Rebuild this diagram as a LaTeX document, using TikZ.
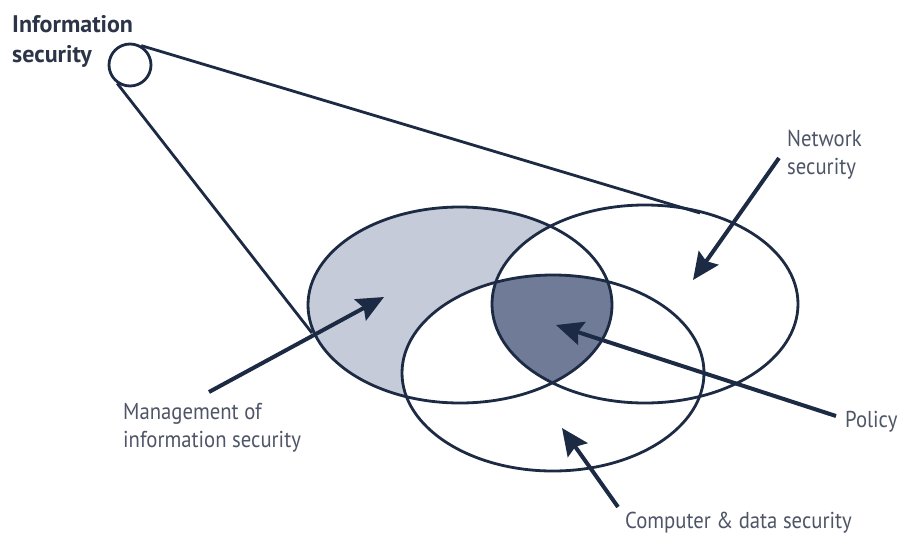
\documentclass[tikz,border=0pt]{standalone}
\usepackage{fontspec}
\setmainfont{PT Sans}
\newfontfamily\lblfont[FakeStretch=0.9]{PT Sans}
\usetikzlibrary{arrows.meta}
\definecolor{navy}{HTML}{1C2A44}
\definecolor{lightf}{HTML}{C6CBD9}
\definecolor{darkf}{HTML}{707C97}
\definecolor{txt}{HTML}{4E5567}
\definecolor{titlec}{HTML}{2C3548}
\begin{document}
\begin{tikzpicture}[x=1pt,y=-1pt,
  outl/.style={draw=navy,line width=2.8pt},
  pointer/.style={draw=navy,line width=4pt,-{Stealth[length=27pt,width=24pt,inset=4pt]}},
  lbl/.style={text=txt,font=\lblfont\fontsize{23}{28}\selectfont,align=left,inner sep=0pt,anchor=base west},
  titlelbl/.style={text=titlec,font=\bfseries\fontsize{24}{30}\selectfont,align=left,inner sep=0pt,anchor=base west}]
\useasboundingbox (0,0) rectangle (900,536);
\fill[white] (0,0) rectangle (900,536);
% regions
\fill[lightf] (460,305) ellipse [x radius=152pt, y radius=98pt];
\fill[white] (645,304) ellipse [x radius=153pt, y radius=99pt];
\fill[white] (553,373) ellipse [x radius=151pt, y radius=98pt];
\begin{scope}
  \clip (460,305) ellipse [x radius=152pt, y radius=98pt];
  \clip (645,304) ellipse [x radius=153pt, y radius=99pt];
  \fill[darkf] (553,373) ellipse [x radius=151pt, y radius=98pt];
\end{scope}
% outlines
\draw[outl] (460,305) ellipse [x radius=152pt, y radius=98pt];
\draw[outl] (645,304) ellipse [x radius=153pt, y radius=99pt];
\draw[outl] (553,373) ellipse [x radius=151pt, y radius=98pt];
% small circle and cone lines
\node[circle,draw=navy,line width=2.8pt,minimum size=42pt,inner sep=0pt] (small) at (130,65) {};
\coordinate (coneTop) at (700,213);
\coordinate (coneBot) at (312,333);
\draw[outl] (small.60) -- (coneTop);
\draw[outl] (small.235) -- (coneBot);
% labels (base anchor = last line baseline)
\node[titlelbl] (info) at (12,62) {Information\\security};
\node[lbl] (net) at (787,174) {Network\\security};
\node[lbl] (pol) at (845,427) {Policy};
\node[lbl] (comp) at (625,528) {Computer \& data security};
\node[lbl] (mgmt) at (123,447) {Management of\\information security};
% arrows
\coordinate (mgmtS) at (209,392);  \coordinate (mgmtT) at (384,297);
\coordinate (netS) at (779,158);   \coordinate (netT) at (693,280);
\coordinate (polS) at (836,416);   \coordinate (polT) at (556,325);
\coordinate (compS) at (618,507);  \coordinate (compT) at (562,428);
\draw[pointer] (mgmtS) -- (mgmtT);
\draw[pointer] (netS) -- (netT);
\draw[pointer] (polS) -- (polT);
\draw[pointer] (compS) -- (compT);
\end{tikzpicture}
\end{document}
